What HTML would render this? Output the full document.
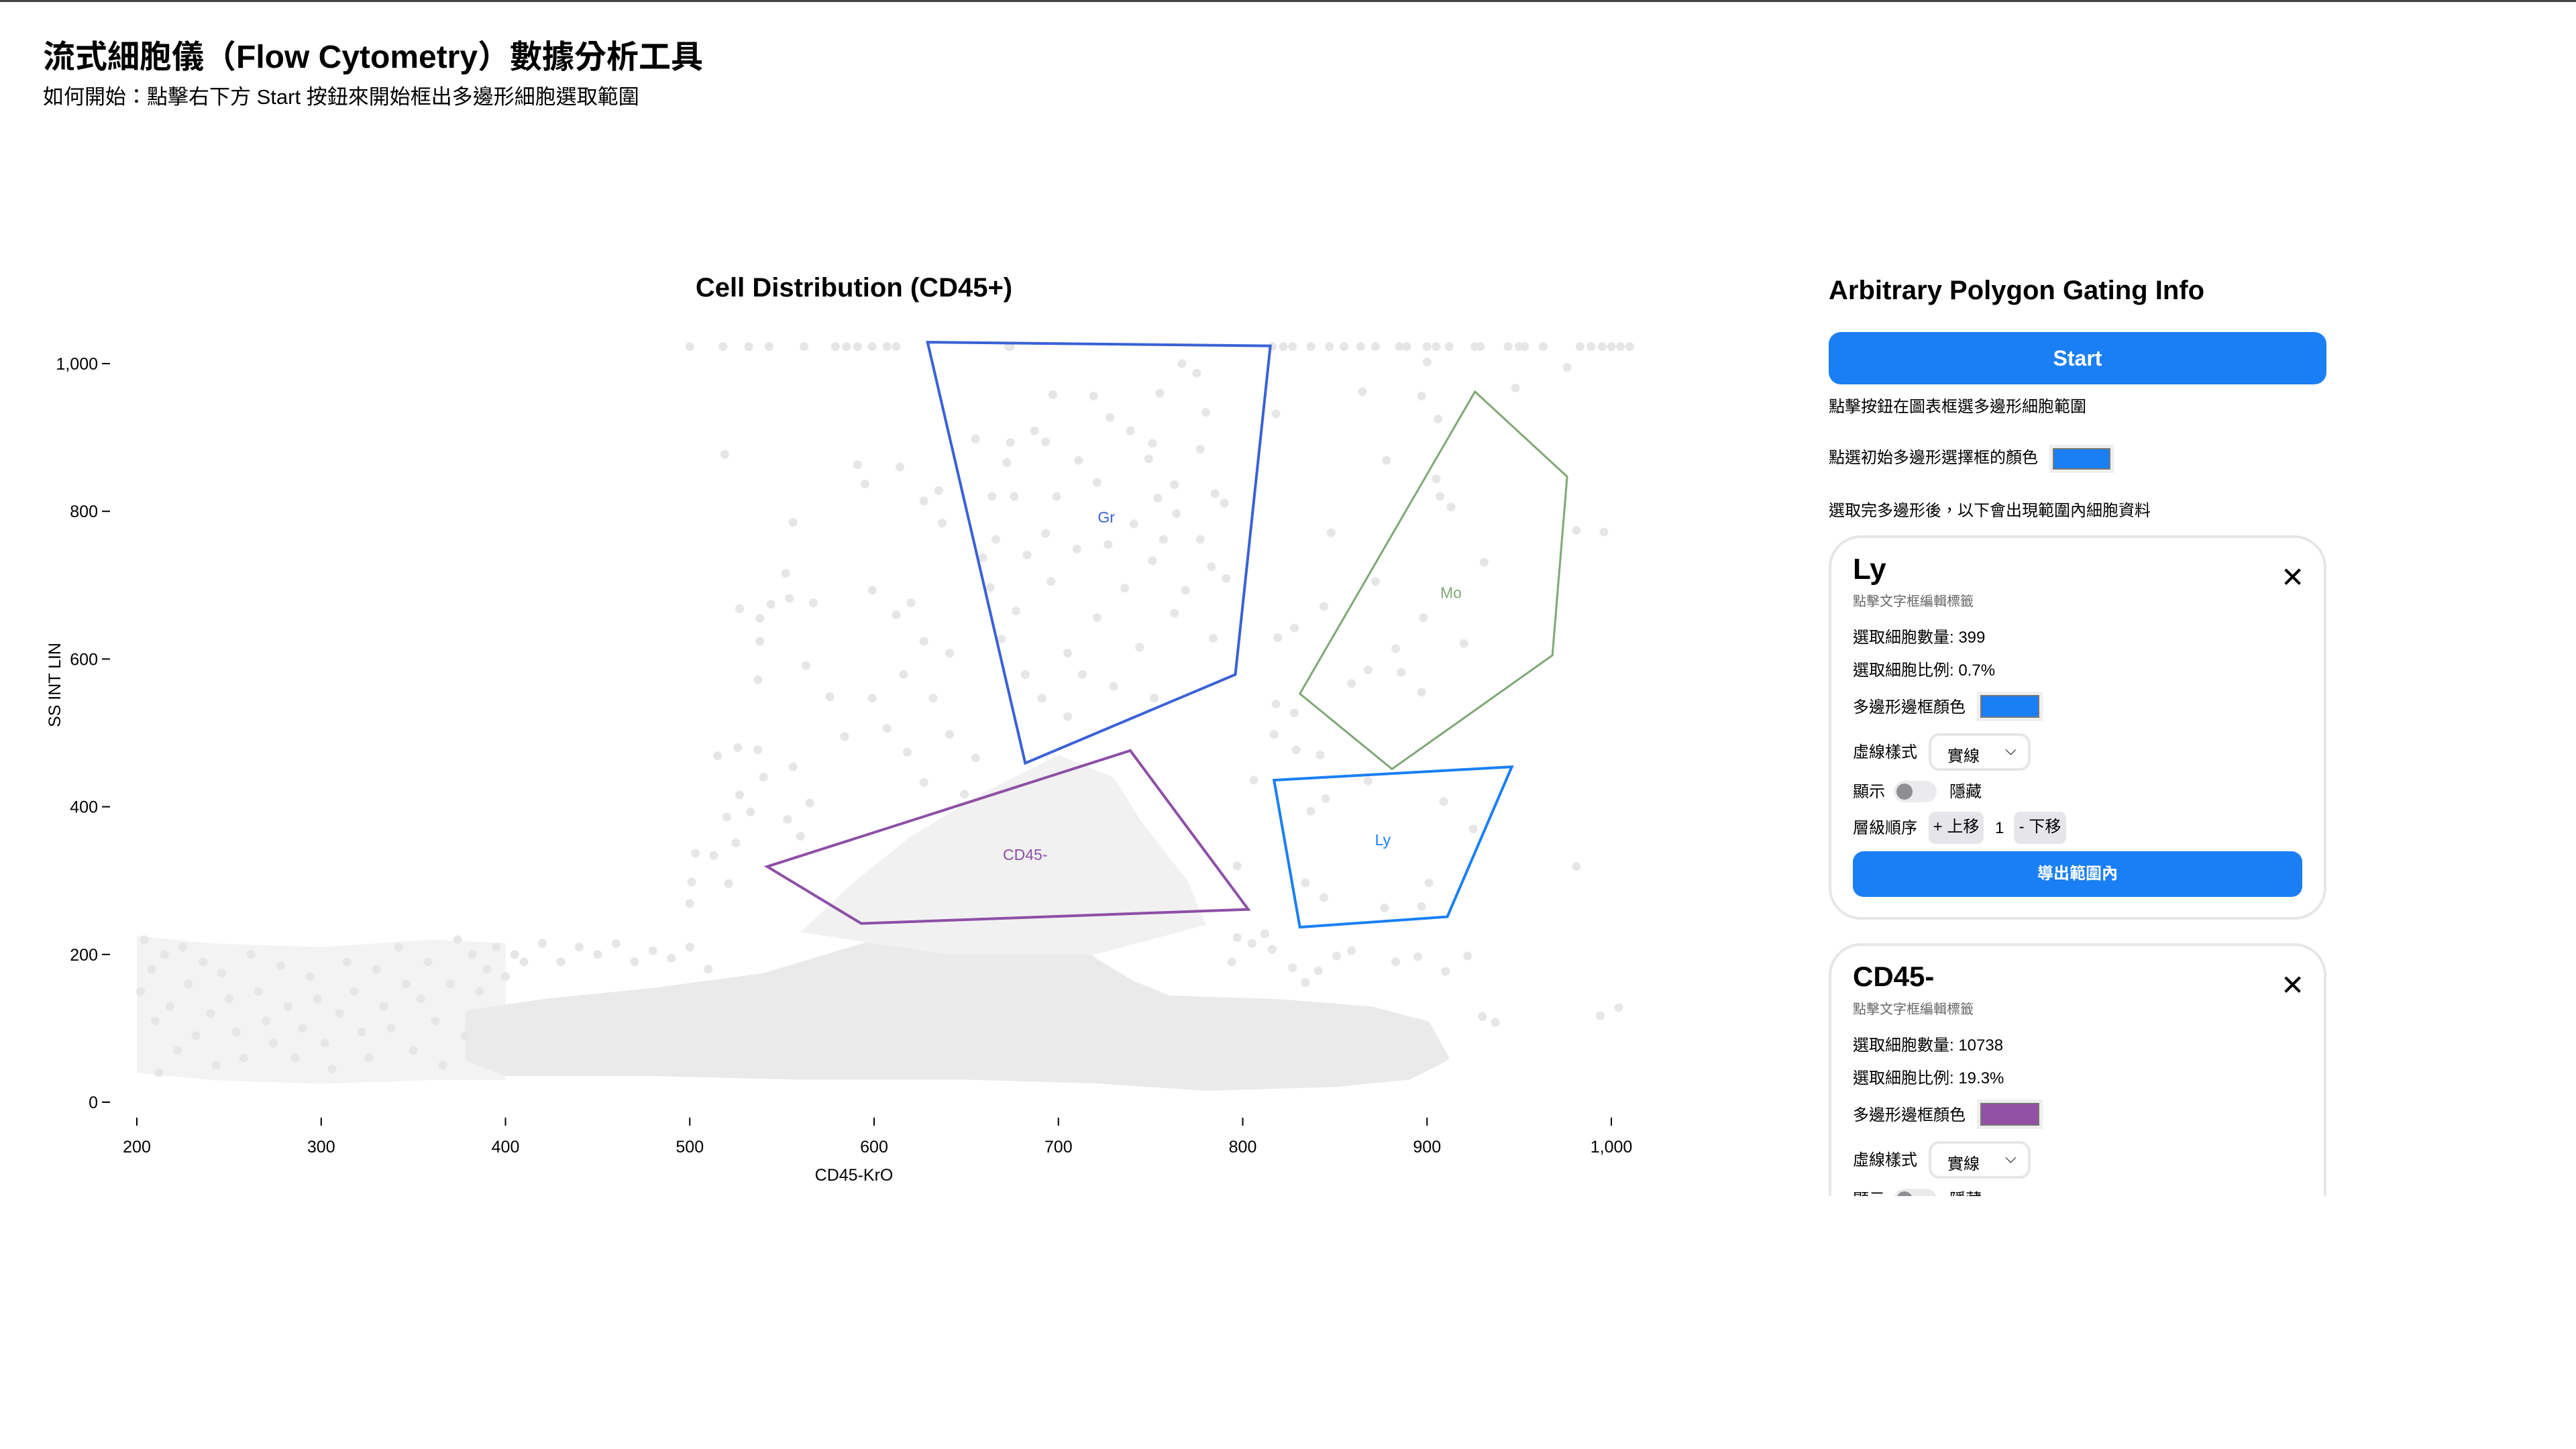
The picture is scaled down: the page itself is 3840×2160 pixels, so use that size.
<!DOCTYPE html>
<html><head><meta charset="utf-8">
<style>
*{box-sizing:border-box;margin:0;padding:0}
body{width:3840px;height:2160px;background:#fff;position:relative;overflow:hidden;font-family:"Liberation Sans","Noto Sans CJK TC",sans-serif;color:#000}
.abs{position:absolute;white-space:nowrap}
.lbl{font-size:24px;line-height:30px}
.card{position:absolute;left:2726px;width:742px;border:4px solid #e6e6ea;border-radius:48px;background:#fff}
.sw{position:absolute;background:#efefef;padding:5px}
.sw div{width:100%;height:100%;border:2px solid #777}
.sel{position:absolute;border:4px solid #e6e6ea;border-radius:16px;background:#fff;font-size:24px}
.btn2{position:absolute;background:#e6e6ea;border-radius:10px;font-size:24px;text-align:center;line-height:46px}
</style></head>
<body>
<div style="position:absolute;left:0;top:0;width:3840px;height:3px;background:#444"></div>
<div class="abs" style="left:64px;top:56px;font-size:48px;font-weight:bold;line-height:60px">流式細胞儀（Flow Cytometry）數據分析工具</div>
<div class="abs" style="left:64px;top:125px;font-size:31px;line-height:40px">如何開始：點擊右下方 Start 按鈕來開始框出多邊形細胞選取範圍</div>

<svg id="chart" style="position:absolute;left:0;top:0" width="2600" height="1790" xmlns="http://www.w3.org/2000/svg">
<text x="1273" y="442" text-anchor="middle" font-family="Liberation Sans" font-weight="bold" font-size="40">Cell Distribution (CD45+)</text>
<g id="cloud"></g><g id="dots"></g><g id="axes"></g><g id="gates"></g>
<text x="1273" y="1760" text-anchor="middle" font-family="Liberation Sans" font-size="25">CD45-KrO</text>
<text transform="translate(90,1021) rotate(-90)" text-anchor="middle" font-family="Liberation Sans" font-size="25">SS INT LIN</text>
</svg>

<div class="abs" style="left:2726px;top:408px;font-size:40px;font-weight:bold;line-height:50px">Arbitrary Polygon Gating Info</div>
<div class="abs" style="left:2726px;top:495px;width:742px;height:78px;background:#1a7ff5;border-radius:18px;color:#fff;font-weight:bold;font-size:32px;text-align:center;line-height:78px">Start</div>
<div class="abs lbl" style="left:2726px;top:592px">點擊按鈕在圖表框選多邊形細胞範圍</div>
<div class="abs lbl" style="left:2726px;top:668px">點選初始多邊形選擇框的顏色</div>
<div class="sw" style="left:3055px;top:663px;width:96px;height:42px"><div style="background:#1a7ff5"></div></div>
<div class="abs lbl" style="left:2726px;top:747px">選取完多邊形後，以下會出現範圍內細胞資料</div>

<div style="position:absolute;left:0;top:0;width:3840px;height:1783px;overflow:hidden">
<div class="card" style="top:798px;height:573px">
 <div class="abs" style="left:32px;top:22px;font-size:44px;font-weight:bold">Ly</div>
 <div class="abs" style="left:670px;top:34px;font-size:42px;line-height:50px">✕</div>
 <div class="abs" style="left:32px;top:78px;font-size:20px;color:#666">點擊文字框編輯標籤</div>
 <div class="abs lbl" style="left:32px;top:134px">選取細胞數量: 399</div>
 <div class="abs lbl" style="left:32px;top:183px">選取細胞比例: 0.7%</div>
 <div class="abs lbl" style="left:32px;top:238px">多邊形邊框顏色</div>
 <div class="sw" style="left:217px;top:229px;width:98px;height:44px"><div style="background:#1a7ff5"></div></div>
 <div class="abs lbl" style="left:32px;top:305px">虛線樣式</div>
 <div class="sel" style="left:145px;top:291px;width:152px;height:56px"><span style="position:absolute;left:24px;top:10px">實線</span><span style="position:absolute;left:110px;top:8px;font-size:22px">⌵</span></div>
 <div class="abs lbl" style="left:32px;top:364px">顯示</div>
 <div class="abs" style="left:93px;top:362px;width:64px;height:32px;background:#ebebee;border-radius:16px"><div style="position:absolute;left:4px;top:4px;width:24px;height:24px;border-radius:50%;background:#8e8e93"></div></div>
 <div class="abs lbl" style="left:176px;top:364px">隱藏</div>
 <div class="abs lbl" style="left:32px;top:418px">層級順序</div>
 <div class="btn2" style="left:145px;top:408px;width:82px;height:48px">+ 上移</div>
 <div class="abs lbl" style="left:244px;top:418px">1</div>
 <div class="btn2" style="left:272px;top:408px;width:78px;height:48px">- 下移</div>
 <div class="abs" style="left:32px;top:467px;width:670px;height:68px;background:#1a7ff5;border-radius:16px;color:#fff;font-weight:bold;font-size:24px;text-align:center;line-height:68px">導出範圍內</div>
</div>
<div class="card" style="top:1406px;height:573px">
 <div class="abs" style="left:32px;top:22px;font-size:42px;font-weight:bold">CD45-</div>
 <div class="abs" style="left:670px;top:34px;font-size:42px;line-height:50px">✕</div>
 <div class="abs" style="left:32px;top:78px;font-size:20px;color:#666">點擊文字框編輯標籤</div>
 <div class="abs lbl" style="left:32px;top:134px">選取細胞數量: 10738</div>
 <div class="abs lbl" style="left:32px;top:183px">選取細胞比例: 19.3%</div>
 <div class="abs lbl" style="left:32px;top:238px">多邊形邊框顏色</div>
 <div class="sw" style="left:217px;top:229px;width:98px;height:44px"><div style="background:#9351a6"></div></div>
 <div class="abs lbl" style="left:32px;top:305px">虛線樣式</div>
 <div class="sel" style="left:145px;top:291px;width:152px;height:56px"><span style="position:absolute;left:24px;top:10px">實線</span><span style="position:absolute;left:110px;top:8px;font-size:22px">⌵</span></div>
 <div class="abs lbl" style="left:32px;top:364px">顯示</div>
 <div class="abs" style="left:93px;top:362px;width:64px;height:32px;background:#ebebee;border-radius:16px"><div style="position:absolute;left:4px;top:4px;width:24px;height:24px;border-radius:50%;background:#8e8e93"></div></div>
 <div class="abs lbl" style="left:176px;top:364px">隱藏</div>
</div>
</div>

<script>
const xTicks=[200,300,400,500,600,700,800,900,1000];
const xTickLabels=["200","300","400","500","600","700","800","900","1,000"];
const yTicks=[0,200,400,600,800,1000];
const yTickLabels=["0","200","400","600","800","1,000"];
const gateNames=["Gr","Mo","Ly","CD45-"];
const gateColors=["#3a62d6","#7fa876","#1a7ff5","#8e4fa6"];
const grX=[629,815,796,682], grY=[1029,1024,579,459];
const moX=[926,976,968,881,831], moY=[962,847,605,451,553];
const lyX=[817,946,911,831], lyY=[436,454,251,237];
const cdX=[542,739,803,593], cdY=[319,476,261,242];
const labelX=[726,913,876,682], labelY=[792,690,355,335];
const cloudX=[380,420,480,540,580,620,660,700,720,740,760,820,870,900,910,890,850,780,720,650,560,480,400,380];
const cloudY=[120,135,150,170,200,230,240,230,190,160,140,135,125,105,60,35,25,20,30,35,35,40,40,60];
const leftCloudX=[200,240,300,360,400,400,360,300,240,200];
const leftCloudY=[225,215,210,220,215,30,30,25,30,40];
const cd45CloudX=[560,590,620,660,700,730,745,770,780,720,640];
const cd45CloudY=[230,300,360,420,470,440,380,300,240,200,200];
const topRowX=[500,518,532,543,562,579,585,591,599,607,612,673,674,816,822,827,837,847,855,864,872,885,889,900,905,912,926,929,944,950,953,963,983,989,995,1000,1005,1010];
const dotX=[202,204,208,210,212,215,218,222,225,228,232,236,240,243,246,250,254,258,262,266,270,274,278,282,286,290,294,298,302,306,310,314,318,322,326,330,334,338,342,346,350,354,358,362,366,370,374,378,382,386,390,395,400,405,410,420,430,440,450,460,470,480,490,500,510,
519,591,595,556,552,527,538,544,554,567,538,563,537,576,584,526,537,515,556,540,527,565,520,553,533,560,503,513,525,501,500,521,
767,775,697,719,755,728,780,655,687,739,674,693,751,777,711,749,672,721,763,664,699,754,785,676,741,764,790,666,693,727,757,777,659,683,710,751,783,663,696,736,769,791,677,721,763,669,705,744,784,682,713,730,752,691,705,
614,627,635,637,599,620,612,627,641,616,599,632,607,641,618,655,627,649,
818,900,976,948,865,897,906,878,905,907,913,848,931,981,996,872,898,920,883,844,828,819,868,886,897,859,818,817,828,842,829,806,845,868,909,925,981,837,834,901,844,877,897,812,816,827,834,841,851,859,883,895,910,922,930,937,994,1004,797,797,805,794];
const dotY=[150,220,180,110,40,200,130,70,210,160,90,190,120,50,175,140,95,60,200,150,110,80,185,130,60,100,170,140,80,45,120,190,150,95,60,180,130,100,210,160,70,140,190,110,50,160,220,90,200,150,180,210,170,200,190,215,190,210,200,215,190,205,195,210,180,
877,863,837,785,716,668,655,674,682,676,624,591,572,549,495,480,477,469,454,440,416,405,386,383,393,360,337,334,351,298,269,296,
1000,987,958,956,960,927,934,898,909,909,893,894,892,884,869,871,866,839,836,820,820,818,824,820,783,797,811,762,770,755,762,762,737,741,749,733,725,697,705,696,693,709,665,656,662,627,608,616,628,579,579,563,547,547,522,
860,814,828,784,693,676,660,624,608,579,547,547,506,498,474,466,433,417,
932,1002,995,967,962,956,925,869,844,820,806,771,731,774,772,705,656,621,614,671,642,629,585,582,555,567,539,498,527,470,477,436,411,435,407,370,319,394,297,297,277,263,265,228,207,182,162,178,198,205,190,197,177,198,116,108,117,128,320,223,215,190];
const topRowY=1023;

const NS="http://www.w3.org/2000/svg";
const xS=v=>204+(v-200)*2.7475;
const yS=v=>1643-v*1.101;
function mk(tag,parent){const e=document.createElementNS(NS,tag);document.getElementById(parent).appendChild(e);return e;}
function poly(xs,ys){return xs.map((x,i)=>xS(x).toFixed(1)+","+yS(ys[i]).toFixed(1)).join(" ");}

let c=mk("polygon","cloud");


c.setAttribute("points",poly(leftCloudX,leftCloudY));c.setAttribute("fill","#f3f3f3");
c=mk("polygon","cloud");


c.setAttribute("points",poly(cloudX,cloudY));c.setAttribute("fill","#eaeaea");c.setAttribute("stroke","#eaeaea");c.setAttribute("stroke-width","10");c.setAttribute("stroke-linejoin","round");
c=mk("polygon","cloud");


c.setAttribute("points",poly(cd45CloudX,cd45CloudY));c.setAttribute("fill","#f1f1f1");

for(let i=0;i<dotX.length;i++){
  const d=mk("circle","dots");
  
  
  d.setAttribute("cx",xS(dotX[i]));d.setAttribute("cy",yS(dotY[i]));d.setAttribute("r",6.5);d.setAttribute("fill","#e6e6e6");
}
for(let i=0;i<topRowX.length;i++){
  const d=mk("circle","dots");
  
  
  d.setAttribute("cx",xS(topRowX[i]));d.setAttribute("cy",yS(topRowY));d.setAttribute("r",6.5);d.setAttribute("fill","#e6e6e6");
}
xTicks.forEach((t,i)=>{
  const l=mk("line","axes");
  
  
  l.setAttribute("x1",xS(t));l.setAttribute("x2",xS(t));l.setAttribute("y1",1666);l.setAttribute("y2",1678);l.setAttribute("stroke","#000");l.setAttribute("stroke-width",2);
  const tx=mk("text","axes");
  
  
  tx.setAttribute("x",xS(t));tx.setAttribute("y",1718);tx.setAttribute("text-anchor","middle");tx.setAttribute("font-size","25");tx.setAttribute("font-family","Liberation Sans");tx.textContent=xTickLabels[i];
});
yTicks.forEach((t,i)=>{
  const l=mk("line","axes");
  
  
  l.setAttribute("x1",152);l.setAttribute("x2",164);l.setAttribute("y1",yS(t));l.setAttribute("y2",yS(t));l.setAttribute("stroke","#000");l.setAttribute("stroke-width",2);
  const tx=mk("text","axes");
  
  
  tx.setAttribute("x",146);tx.setAttribute("y",yS(t)+9);tx.setAttribute("text-anchor","end");tx.setAttribute("font-size","25");tx.setAttribute("font-family","Liberation Sans");tx.textContent=yTickLabels[i];
});
const gX=[grX,moX,lyX,cdX], gY=[grY,moY,lyY,cdY];
gateNames.forEach((n,i)=>{
  const p=mk("polygon","gates");
  
  
  p.setAttribute("points",poly(gX[i],gY[i]));p.setAttribute("fill","none");p.setAttribute("stroke",gateColors[i]);p.setAttribute("stroke-width",i===1?3:4);
  const t=mk("text","gates");
  
  
  t.setAttribute("x",xS(labelX[i]));t.setAttribute("y",yS(labelY[i])+8);t.setAttribute("text-anchor","middle");t.setAttribute("font-size","23");t.setAttribute("font-family","Liberation Sans");t.setAttribute("fill",gateColors[i]);t.textContent=n;
});
</script>
</body></html>
